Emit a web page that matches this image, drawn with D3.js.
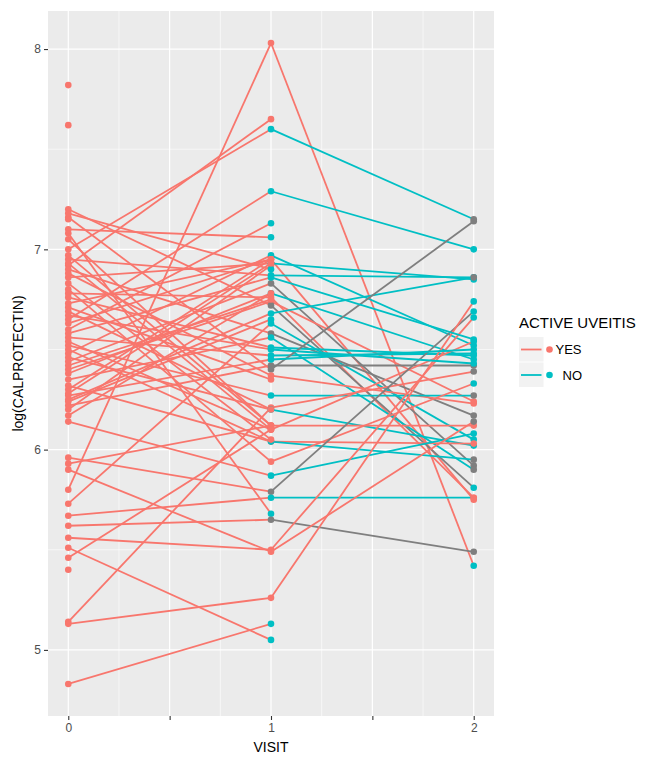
<!DOCTYPE html>
<html>
<head>
<meta charset="utf-8">
<script src="https://cdn.jsdelivr.net/npm/d3@7"></script>
<style>
  html, body { margin: 0; padding: 0; background: #ffffff; }
  svg { display: block; font-family: "Liberation Sans", Arial, sans-serif; }
</style>
</head>
<body>
<svg id="chart" width="649" height="758"></svg>
<script>
// Calprotectin (log scale) per patient across visits 0, 1 and 2.
// Status at each visit: "YES" / "NO" active uveitis, null = not recorded.
const visit0 = [5.80, 6.92, 7.00, 6.65, 6.60, 7.10, 6.48, 6.30, 6.86, 6.20,
                6.95, 6.44, 6.17, 6.78, 6.40, 7.20, 6.25, 5.73, 6.90, 6.35,
                6.76, 6.56, 6.22, 7.16, 6.88, 6.52, 5.46, 5.14, 6.69, 7.05,
                6.50, 6.32, 6.80, 6.14, 5.96, 5.67, 7.08, 5.62, 5.56, 5.90,
                5.13, 4.83, 5.51, 6.93, 6.42, 6.27, 6.73, 6.46, 6.67, 7.18,
                5.93, 6.97, 6.83, 6.63, 6.54, 6.38, 6.28, 6.24, 6.71, 6.58,
                7.82, 7.62, 7.15, 5.40];
const visit1 = [8.03, 7.65, 7.60, 7.29, 7.13, 7.06, 6.97, 6.95, 6.93, 6.92,
                6.87, 6.83, 6.78, 6.76, 6.74, 6.72, 6.68, 6.63, 6.58, 6.56,
                6.51, 6.47, 6.42, 6.40, 6.37, 6.27, 6.10, 6.21, 6.20, 6.12,
                6.04, 6.04, 5.94, 5.87, 5.79, 5.76, 5.68, 5.65, 5.50, 5.49,
                5.26, 5.13, 5.05, 6.10, 6.75, 6.45, 6.95, 6.20, 6.50, 6.90,
                6.12, 6.12, 6.05, 6.95, 6.10, 6.78, 6.93, 6.65, 6.35, 6.86];
const status1 = ["YES", "YES", "NO", "NO", "NO", "NO", "NO", "YES", "NO", "YES",
                 "NO", null, "NO", "YES", "YES", null, "NO", "NO", null, "NO",
                 "NO", "NO", null, null, "YES", "NO", "YES", "YES", "NO", "YES",
                 "YES", "NO", "YES", "NO", null, "NO", "NO", null, "YES", "YES",
                 "YES", "NO", "NO", "YES", "YES", "NO", "YES", "YES", "NO", "NO",
                 "YES", "YES", "YES", "YES", "YES", "YES", "YES", "NO", "YES", "NO"];
const visit2 = [5.42, null, 7.15, 7.00, null, null, 6.52, 5.75, 6.85, null,
                6.86, 5.92, 6.45, 5.76, 6.24, 5.81, 6.86, 6.05, 6.17, 5.90,
                6.47, 6.48, 6.42, 7.14, 6.23, 6.27, 6.54, 6.39, 6.02, 6.12,
                6.03, 5.95, 6.33, 6.08, 6.69, 5.76, null, 5.49, 6.66, 6.14,
                6.74, null, null, null, null, 6.50, null, null, 6.43, null,
                null, null, null, null, null, null, null, null, null, 6.55];
const status2 = ["NO", null, null, "NO", null, null, "NO", "YES", "NO", null,
                 "NO", null, "NO", "YES", "YES", "NO", null, "NO", null, null,
                 "NO", "NO", null, null, "YES", null, "NO", null, "NO", "YES",
                 "YES", null, "NO", "NO", "NO", "YES", null, null, "NO", null,
                 "NO", null, null, null, null, "NO", null, null, "NO", null,
                 null, null, null, null, null, null, null, null, null, "NO"];
const visits = [0, 1, 2];
const yTicks = [5, 6, 7, 8];
const xTicks = [0, 0.5, 1, 1.5, 2];
const legendLevels = ["YES", "NO"];

const colour = d3.scaleOrdinal().domain(legendLevels).range(["#F8766D", "#00BFC4"]).unknown("#7F7F7F");

// Build per-patient point lists
const patients = visit0.map((v0, i) => {
  const pts = [{ visit: visits[0], value: v0, status: "YES" }];
  if (visit1[i] != null) pts.push({ visit: visits[1], value: visit1[i], status: status1[i] });
  if (visit2[i] != null) pts.push({ visit: visits[2], value: visit2[i], status: status2[i] });
  return pts;
});

const svg = d3.select("#chart");
const panel = { left: 48, right: 494, top: 11, bottom: 716 };

const x = d3.scaleLinear().domain([-0.1, 2.1]).range([panel.left, panel.right]);
const y = d3.scaleLinear().domain([4.67, 8.19]).range([panel.bottom, panel.top]);

// Panel background
svg.append("rect")
  .attr("x", panel.left).attr("y", panel.top)
  .attr("width", panel.right - panel.left).attr("height", panel.bottom - panel.top)
  .attr("fill", "#EBEBEB");

const grid = svg.append("g");
// Minor grid
[5.5, 6.5, 7.5].forEach(v => grid.append("line")
  .attr("x1", panel.left).attr("x2", panel.right).attr("y1", y(v)).attr("y2", y(v))
  .attr("stroke", "#ffffff").attr("stroke-width", 0.6));
[0.25, 0.75, 1.25, 1.75].forEach(v => grid.append("line")
  .attr("y1", panel.top).attr("y2", panel.bottom).attr("x1", x(v)).attr("x2", x(v))
  .attr("stroke", "#ffffff").attr("stroke-width", 0.6));
// Major grid
yTicks.forEach(v => grid.append("line")
  .attr("x1", panel.left).attr("x2", panel.right).attr("y1", y(v)).attr("y2", y(v))
  .attr("stroke", "#ffffff").attr("stroke-width", 1.2));
xTicks.forEach(v => grid.append("line")
  .attr("y1", panel.top).attr("y2", panel.bottom).attr("x1", x(v)).attr("x2", x(v))
  .attr("stroke", "#ffffff").attr("stroke-width", 1.2));

// Segments: each takes the colour of its starting visit
const segs = [];
patients.forEach(pts => {
  for (let k = 0; k < pts.length - 1; k++) segs.push([pts[k], pts[k + 1]]);
});
svg.append("g").selectAll("line").data(segs).join("line")
  .attr("x1", d => x(d[0].visit)).attr("y1", d => y(d[0].value))
  .attr("x2", d => x(d[1].visit)).attr("y2", d => y(d[1].value))
  .attr("stroke", d => colour(d[0].status))
  .attr("stroke-width", 1.8);

// Points
svg.append("g").selectAll("circle").data(patients.flat()).join("circle")
  .attr("cx", d => x(d.visit)).attr("cy", d => y(d.value))
  .attr("r", 3.3)
  .attr("fill", d => colour(d.status));

// Axes
const yAxis = svg.append("g")
  .attr("transform", `translate(${panel.left},0)`)
  .call(d3.axisLeft(y).tickValues(yTicks).tickSize(4).tickPadding(3).tickFormat(d3.format("d")));
const xAxis = svg.append("g")
  .attr("transform", `translate(0,${panel.bottom})`)
  .call(d3.axisBottom(x).tickValues(xTicks).tickSize(4).tickPadding(3)
    .tickFormat(d => Number.isInteger(d) ? String(d) : ""));
[yAxis, xAxis].forEach(a => {
  a.select(".domain").remove();
  a.selectAll(".tick line").attr("stroke", "#333333").attr("stroke-width", 1.1);
  a.selectAll(".tick text").attr("fill", "#4D4D4D").style("font-size", "12px")
    .style("font-family", "'Liberation Sans', Arial, sans-serif");
});

// Axis titles
svg.append("text")
  .attr("x", x(1)).attr("y", 752)
  .attr("text-anchor", "middle")
  .style("font-size", "14px").attr("fill", "#000")
  .text("VISIT");
svg.append("text")
  .attr("transform", `translate(23,${(panel.top + panel.bottom) / 2}) rotate(-90)`)
  .attr("text-anchor", "middle")
  .style("font-size", "14px").attr("fill", "#000")
  .text("log(CALPROTECTIN)");

// Legend
const legend = svg.append("g").attr("transform", "translate(519,0)");
legend.append("text")
  .attr("x", 0).attr("y", 328)
  .style("font-size", "15px").attr("fill", "#000")
  .text("ACTIVE UVEITIS");
legendLevels.forEach((lvl, i) => {
  const top = 337 + i * 25.5;
  const cy = top + 12.5;
  legend.append("rect")
    .attr("x", 0).attr("y", top).attr("width", 24.5).attr("height", 24.5)
    .attr("fill", "#F2F2F2");
  legend.append("line")
    .attr("x1", 2).attr("x2", 22.5).attr("y1", cy).attr("y2", cy)
    .attr("stroke", colour(lvl)).attr("stroke-width", 1.8);
  legend.append("circle")
    .attr("cx", 30.5).attr("cy", cy).attr("r", 3.3)
    .attr("fill", colour(lvl));
  legend.append("text")
    .attr("x", lvl === "YES" ? 36.5 : 43.5).attr("y", cy + 4.5)
    .style("font-size", "13px").attr("fill", "#000")
    .text(lvl);
});
</script>
</body>
</html>
